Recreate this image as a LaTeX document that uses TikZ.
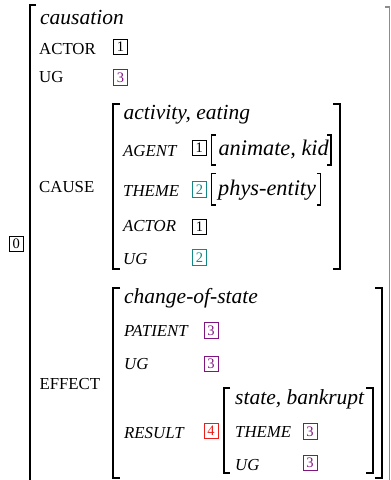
\documentclass[tikz,border=0pt]{standalone}
\usepackage{fontspec}
\setmainfont{Liberation Serif}
\newcommand\valfont{\fontsize{21.5}{24}\selectfont\itshape}
\newcommand\inlinevalfont{\fontsize{22.3}{24}\selectfont\itshape}
\newcommand\featfont{\fontsize{16.8}{18}\selectfont}
\newcommand\featitfont{\fontsize{16.8}{18}\selectfont\itshape}
\newcommand\tagfont{\fontsize{14.5}{15}\selectfont}
\definecolor{tagpurple}{RGB}{128,20,128}
\definecolor{tagteal}{RGB}{20,135,135}
\definecolor{tagred}{RGB}{235,30,30}
\tikzset{
  val/.style={anchor=base west, inner sep=0pt, font=\valfont},
  inlineval/.style={anchor=base west, inner sep=0pt, font=\inlinevalfont},
  feat/.style={anchor=base west, inner sep=0pt, font=\featfont},
  featit/.style={anchor=base west, inner sep=0pt, font=\featitfont},
  tag/.style={draw, line width=0.9pt, minimum width=14pt, minimum height=15.5pt,
    inner sep=0pt, font=\tagfont},
  bigbracket/.style={line width=2pt, line cap=butt},
  smallbracket/.style={line width=1.1pt, line cap=butt},
}
\begin{document}
\begin{tikzpicture}[x=1pt, y=-1pt]
\useasboundingbox (0,0) rectangle (391,480);

% outer structure
\node[tag] (t0) at (16.3,243.8) {0};
\draw[bigbracket] (36,5) -- (29.5,5) -- (29.5,482);
\draw[line width=1.2pt, black!45] (385,7) -- (389.6,7) -- (389.6,482);

\node[val] (causation) at (40,24) {causation};
\node[feat] (actor) at (39,54) {ACTOR};
\node[tag] (actortag) at (120.5,47) {1};
\node[feat] (ug) at (39,82.7) {UG};
\node[tag, tagpurple] (ugtag) at (120.5,77.5) {3};
\node[feat] (cause) at (39,192.7) {CAUSE};
\node[feat] (effect) at (39.3,389.3) {EFFECT};

% CAUSE value
\draw[bigbracket] (120,104) -- (113.3,104) -- (113.3,268.5) -- (120,268.5);
\draw[bigbracket] (333,104) -- (340,104) -- (340,268.5) -- (333,268.5);
\node[val] (activity) at (123.3,119.3) {activity, eating};
\node[featit] (agent) at (123,156.5) {AGENT};
\node[tag] (agenttag) at (199.3,148) {1};
\draw[smallbracket] (215.5,135) -- (211.7,135) -- (211.7,165) -- (215.5,165);
\draw[smallbracket] (327.3,135) -- (331,135) -- (331,165) -- (327.3,165);
\node[inlineval] (animate) at (218.3,155.7) {animate, kid};
\node[featit] (theme) at (123,196) {THEME};
\node[tag, tagteal] (themetag) at (199.5,189.5) {2};
\draw[smallbracket] (215.5,173.3) -- (211.7,173.3) -- (211.7,205) -- (215.5,205);
\draw[smallbracket] (317,173.3) -- (320.7,173.3) -- (320.7,205) -- (317,205);
\node[inlineval] (phys) at (218,195) {phys-entity};
\node[featit] (cactor) at (123,231.7) {ACTOR};
\node[tag] (cactortag) at (199.5,226.7) {1};
\node[featit] (cug) at (123,264) {UG};
\node[tag, tagteal] (cugtag) at (199.5,257.5) {2};

% EFFECT value
\draw[bigbracket] (120,288) -- (113,288) -- (113,478) -- (120,478);
\draw[bigbracket] (375,287.5) -- (382.3,287.5) -- (382.3,478) -- (375,478);
\node[val] (change) at (124,303.3) {change-of-state};
\node[featit] (patient) at (124,336) {PATIENT};
\node[tag, tagpurple] (patienttag) at (211,330.5) {3};
\node[featit] (eug) at (124,369.3) {UG};
\node[tag, tagpurple] (eugtag) at (211,363.7) {3};
\node[featit] (result) at (124,438.3) {RESULT};
\node[tag, tagred] (resulttag) at (211,431) {4};

% RESULT value
\draw[bigbracket] (230,388) -- (223.5,388) -- (223.5,473.3) -- (230,473.3);
\draw[bigbracket] (366,388) -- (372.7,388) -- (372.7,473.3) -- (366,473.3);
\node[val] (state) at (235,404) {state, bankrupt};
\node[featit] (rtheme) at (235,437.3) {THEME};
\node[tag, tagpurple] (rthemetag) at (310,431.5) {3};
\node[featit] (rug) at (235,470) {UG};
\node[tag, tagpurple] (rugtag) at (310,463) {3};
\end{tikzpicture}
\end{document}
